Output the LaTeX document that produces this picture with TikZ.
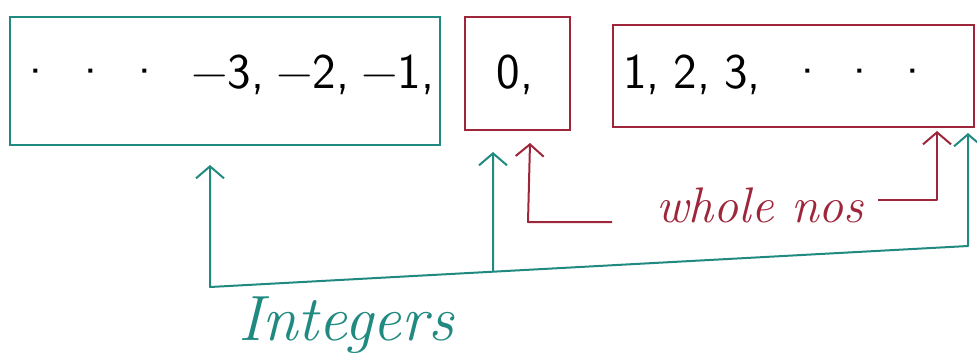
\documentclass[tikz,border=0pt]{standalone}
\usepackage{fontspec}
\usetikzlibrary{arrows.meta,calc}
\definecolor{tealpen}{RGB}{32,138,128}
\definecolor{redpen}{RGB}{158,38,58}
\begin{document}
\begin{tikzpicture}[x=1pt,y=-1pt,
  tealbox/.style={draw=tealpen,line width=2pt,inner sep=0pt},
  redbox/.style={draw=redpen,line width=2pt,inner sep=0pt},
  numtext/.style={font=\sffamily\fontsize{50}{60}\selectfont,anchor=base,inner sep=0pt},
  scripttext/.style={font=\itshape\fontsize{#1}{#1}\selectfont,anchor=base,inner sep=0pt},
  tealline/.style={draw=tealpen,line width=2pt,line join=round},
  redline/.style={draw=redpen,line width=2pt,line join=round},
  barb/.tip={Straight Barb[length=12pt,width=28pt,line width=2pt]}
]
\useasboundingbox (0,0) rectangle (977,360);
% boxes
\node[tealbox,minimum width=430pt,minimum height=128pt] (neg) at (225,81) {};
\node[redbox,minimum width=105pt,minimum height=113pt] (zero) at (517,73) {};
\node[redbox,minimum width=361pt,minimum height=102pt] (pos) at (793,76) {};
% texts in boxes
\node[numtext] (negt) at (226,88) {·\hspace{18pt}·\hspace{18pt}·\hspace{28pt}−3,\hspace{12pt}−2,\hspace{12pt}−1,};
\node[numtext] (zerot) at (515,88) {0,};
\node[numtext] (post) at (777,88) {1,\hspace{14pt}2,\hspace{14pt}3,\hspace{28pt}·\hspace{16pt}·\hspace{16pt}·};
% teal connectors
\coordinate (a1) at (210,165);
\coordinate (b1) at (210,287);
\coordinate (b3) at (968,246);
\coordinate (a3) at (968,133);
\coordinate (a2) at (493,152);
\coordinate (b2) at ($(b1)!0.3734!(b3)$);
\draw[tealline,{barb}-{barb}] (a1) -- (b1) -- (b3) -- (a3);
\draw[tealline,-{barb}] (b2) -- (a2);
\node[scripttext=64,text=tealpen] (int) at (346,340) {Integers};
% red connectors
\node[scripttext=50,text=redpen] (wn) at (760,222) {whole nos};
\coordinate (r1) at (530,143);
\coordinate (r2) at (528,222);
\coordinate (r3) at (612,222);
\coordinate (r4) at (878,200);
\coordinate (r5) at (937,200);
\coordinate (r6) at (937,131);
\draw[redline,{barb}-] (r1) -- (r2) -- (r3);
\draw[redline,-{barb}] (r4) -- (r5) -- (r6);
\end{tikzpicture}
\end{document}
